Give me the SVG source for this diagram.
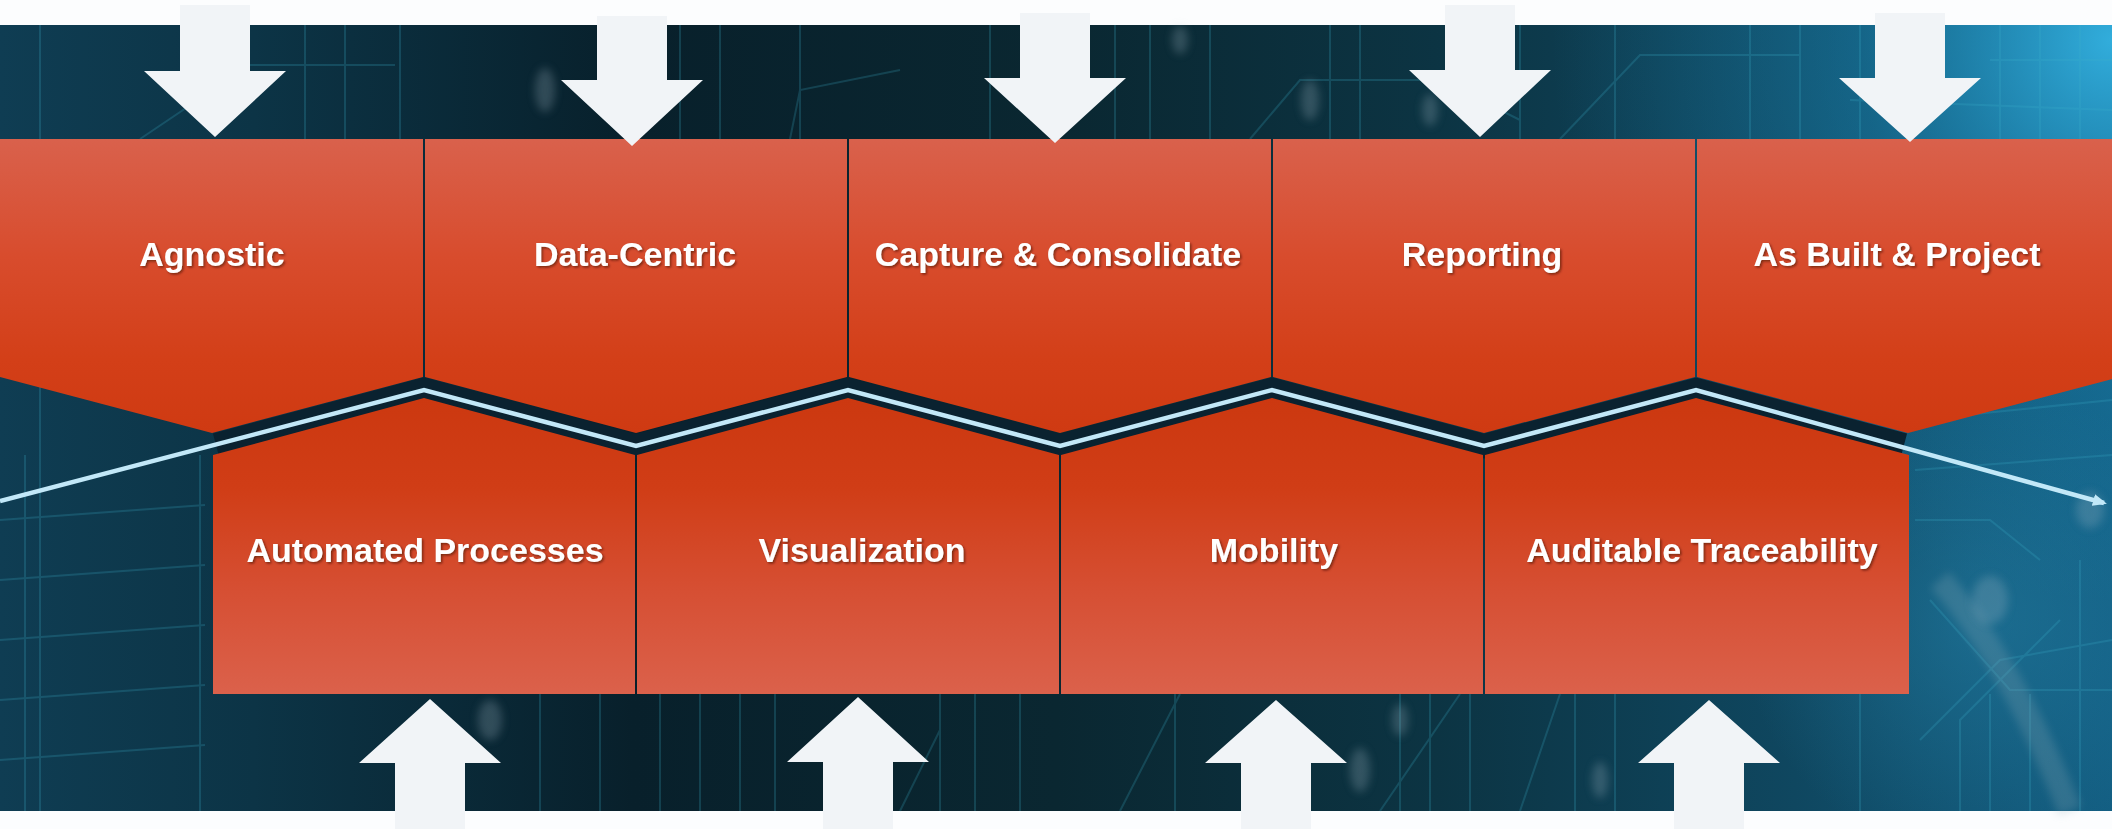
<svg xmlns="http://www.w3.org/2000/svg" width="2112" height="829" viewBox="0 0 2112 829">
<style>
.lbl{font-family:"Liberation Sans",Arial,Helvetica,sans-serif;font-weight:bold;font-size:34px;fill:#ffffff;text-anchor:middle;filter:url(#ts)}
.arr{fill:#f1f4f7}
.topbox{fill:url(#gTop)}
.botbox{fill:url(#gBot)}
.circ{stroke:#3cb2cc;fill:none;stroke-width:2}
.dot{fill:#a9bcc8;opacity:0.25}
.flow{fill:none;stroke:#c2e8f8;stroke-width:4.5;stroke-linejoin:miter}
.gap{fill:none;stroke:#0a2230;stroke-width:24;stroke-linejoin:miter}
</style>
<defs>
<linearGradient id="bg" x1="0" y1="0" x2="1" y2="0">
<stop offset="0" stop-color="#0f3d53"/>
<stop offset="0.12" stop-color="#0c3446"/>
<stop offset="0.3" stop-color="#08202b"/>
<stop offset="0.5" stop-color="#0a2731"/>
<stop offset="0.68" stop-color="#0c3443"/>
<stop offset="0.85" stop-color="#0f4760"/>
<stop offset="1" stop-color="#135e82"/>
</linearGradient>
<radialGradient id="glow" cx="2112" cy="40" r="560" gradientUnits="userSpaceOnUse">
<stop offset="0" stop-color="#35b6e6" stop-opacity="0.9"/>
<stop offset="0.45" stop-color="#1c8ab8" stop-opacity="0.4"/>
<stop offset="1" stop-color="#1c8ab8" stop-opacity="0"/>
</radialGradient>
<radialGradient id="glow2" cx="1980" cy="620" r="240" gradientUnits="userSpaceOnUse">
<stop offset="0" stop-color="#2a8fb8" stop-opacity="0.4"/>
<stop offset="1" stop-color="#2a8fb8" stop-opacity="0"/>
</radialGradient>
<linearGradient id="gTop" x1="0" y1="0" x2="0" y2="1">
<stop offset="0" stop-color="#d9614c"/>
<stop offset="0.4" stop-color="#d84c2d"/>
<stop offset="0.75" stop-color="#d33f18"/>
<stop offset="1" stop-color="#cf3a12"/>
</linearGradient>
<linearGradient id="gBot" x1="0" y1="0" x2="0" y2="1">
<stop offset="0" stop-color="#cc3810"/>
<stop offset="0.3" stop-color="#d03d16"/>
<stop offset="0.65" stop-color="#d64f33"/>
<stop offset="1" stop-color="#db614b"/>
</linearGradient>
<filter id="ts" x="-10%" y="-30%" width="120%" height="160%">
<feDropShadow dx="1.5" dy="1.5" stdDeviation="1" flood-color="#3a0a00" flood-opacity="0.6"/>
</filter>
<filter id="blur" x="-50%" y="-50%" width="200%" height="200%">
<feGaussianBlur stdDeviation="4"/>
</filter>
<marker id="ah" viewBox="0 0 14 12" refX="11" refY="6" markerWidth="14" markerHeight="12" markerUnits="userSpaceOnUse" orient="auto">
<path d="M0,0 L14,6 L0,12 Z" fill="#c2e8f8"/>
</marker>
</defs>

<rect x="0" y="0" width="2112" height="829" fill="#fcfdfe"/>

<g id="background">
<rect x="0" y="25" width="2112" height="786" fill="url(#bg)"/>
<rect x="0" y="25" width="2112" height="786" fill="url(#glow)"/>
<rect x="0" y="25" width="2112" height="786" fill="url(#glow2)"/>
<g opacity="0.22">
<path class="circ" d="M40,25V811M305,25V139M345,25V139M400,25V139M680,25V139M720,25V139M800,25V139M990,25V139M1115,25V139M1150,25V139M1210,25V139M1330,25V139M1360,25V139M1520,25V139M1615,25V139M1750,25V139M1800,25V139M1860,25V139M2000,25V139M2040,25V139M2080,25V139"/>
<path class="circ" d="M200,694V811M540,694V811M600,694V811M660,694V811M700,694V811M740,694V811M775,694V811M940,694V811M975,694V811M1020,694V811M1175,694V811M1400,694V811M1430,694V811M1470,694V811M1575,694V811M1615,694V811M1860,694V811M1990,694V811M2030,694V811"/>
<path class="circ" d="M140,139L250,65L395,65M790,139L800,90L900,70M1250,139L1300,80L1440,80L1520,120M1560,139L1640,55L1800,55M1990,60L2112,60M1850,100L2112,110"/>
<path class="circ" d="M0,520L205,505M0,580L205,565M0,640L205,625M0,700L205,685M0,760L205,745M25,455V811M200,455V811"/>
<path class="circ" d="M1915,470L2112,455M1915,520L1990,520L2040,560M1930,600L2010,690L2112,690M1920,740L2000,660L2112,640M1960,811L1960,720L2060,620M2080,811V560M1915,420L2112,400"/>
<path class="circ" d="M1120,811L1180,694M1380,811L1460,694M1520,811L1560,694M900,811L940,730"/>
</g>
<path d="M1940,580 Q2010,660 2070,811" stroke="#8aa9b6" stroke-width="24" fill="none" opacity="0.25" filter="url(#blur)"/>
<g filter="url(#blur)">
<ellipse class="dot" cx="545" cy="90" rx="10" ry="22"/>
<ellipse class="dot" cx="1310" cy="100" rx="9" ry="20"/>
<ellipse class="dot" cx="1430" cy="110" rx="8" ry="16"/>
<ellipse class="dot" cx="1180" cy="40" rx="8" ry="14"/>
<ellipse class="dot" cx="490" cy="720" rx="12" ry="20"/>
<ellipse class="dot" cx="1360" cy="770" rx="10" ry="22"/>
<ellipse class="dot" cx="1400" cy="720" rx="8" ry="16"/>
<ellipse class="dot" cx="1600" cy="780" rx="8" ry="18"/>
<ellipse class="dot" cx="1990" cy="600" rx="18" ry="24"/>
<ellipse class="dot" cx="2090" cy="510" rx="14" ry="18"/>
</g>
<path class="gap" d="M216,445 L424,390 L636,446 L848,390 L1060,446 L1272,390 L1484,446 L1696,390 L1904,445"/>
</g>

<g id="node-agnostic">
<polygon class="topbox" points="0,139 423,139 423,377 212,433 0,377"/>
<text class="lbl" x="212" y="266">Agnostic</text>
</g>
<g id="node-data-centric">
<polygon class="topbox" points="425,139 847,139 847,377 636,433 425,377"/>
<text class="lbl" x="635" y="266">Data-Centric</text>
</g>
<g id="node-capture">
<polygon class="topbox" points="849,139 1271,139 1271,377 1060,433 849,377"/>
<text class="lbl" x="1058" y="266">Capture &amp; Consolidate</text>
</g>
<g id="node-reporting">
<polygon class="topbox" points="1273,139 1695,139 1695,377 1484,433 1273,377"/>
<text class="lbl" x="1482" y="266">Reporting</text>
</g>
<g id="node-as-built">
<polygon class="topbox" points="1697,139 2120,139 2120,377 1908,433 1697,377"/>
<text class="lbl" x="1897" y="266">As Built &amp; Project</text>
</g>

<g id="node-automated">
<polygon class="botbox" points="213,455 424,398 635,455 635,694 213,694"/>
<text class="lbl" x="425" y="562">Automated Processes</text>
</g>
<g id="node-visualization">
<polygon class="botbox" points="637,455 848,398 1059,455 1059,694 637,694"/>
<text class="lbl" x="862" y="562">Visualization</text>
</g>
<g id="node-mobility">
<polygon class="botbox" points="1061,455 1272,398 1483,455 1483,694 1061,694"/>
<text class="lbl" x="1274" y="562">Mobility</text>
</g>
<g id="node-auditable">
<polygon class="botbox" points="1485,455 1696,398 1909,455 1909,694 1485,694"/>
<text class="lbl" x="1702" y="562">Auditable Traceability</text>
</g>

<g id="connectors">
<polyline class="flow" points="0,501 424,390 636,446 848,390 1060,446 1272,390 1484,446 1696,390 2104,503" marker-end="url(#ah)"/>
</g>

<g id="arrows">
<path class="arr" d="M180,5H250V71H286L215,137L144,71H180Z"/>
<path class="arr" d="M597,16H667V80H703L632,146L561,80H597Z"/>
<path class="arr" d="M1020,13H1090V78H1126L1055,143L984,78H1020Z"/>
<path class="arr" d="M1445,5H1515V70H1551L1480,137L1409,70H1445Z"/>
<path class="arr" d="M1875,13H1945V78H1981L1910,142L1839,78H1875Z"/>
<path class="arr" d="M395,829V763H359L430,699L501,763H465V829Z"/>
<path class="arr" d="M823,829V762H787L858,697L929,762H893V829Z"/>
<path class="arr" d="M1241,829V763H1205L1276,700L1347,763H1311V829Z"/>
<path class="arr" d="M1674,829V763H1638L1709,700L1780,763H1744V829Z"/>
</g>
</svg>
